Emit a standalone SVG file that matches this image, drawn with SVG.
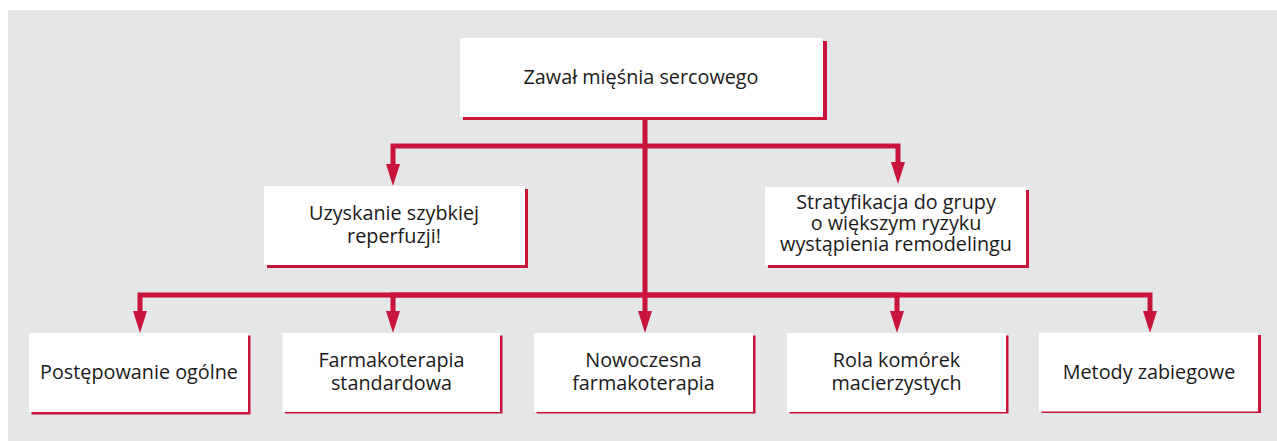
<svg xmlns="http://www.w3.org/2000/svg" width="1277" height="441" viewBox="0 0 1277 441">
  <style>
    .bg { fill: #e5e6e8; }
    .box { fill: #ffffff; }
    .shadow { fill: #c8133a; }
    .conn { fill: none; stroke: #c8133a; stroke-width: 5; stroke-linejoin: miter; }
    .lbl { font-family: "Open Sans", "Noto Sans", "DejaVu Sans", sans-serif; font-size: 19.8px; fill: #1a1a1a; text-anchor: middle; }
  </style>
  <defs>
    <marker id="arrow" viewBox="0 0 22 14" markerWidth="22" markerHeight="14" markerUnits="userSpaceOnUse" refX="2" refY="7" orient="auto">
      <path d="M0,0 L22,7 L0,14 Z" fill="#c8133a"/>
    </marker>
  </defs>
  <rect class="bg" x="8" y="10" width="1269" height="431"/>

  <g id="connectors">
    <path class="conn" d="M645,117 V313" marker-end="url(#arrow)"/>
    <path class="conn" d="M645,146 H393 V166" marker-end="url(#arrow)"/>
    <path class="conn" d="M645,146 H898 V164" marker-end="url(#arrow)"/>
    <path class="conn" d="M645,295 H140 V313" marker-end="url(#arrow)"/>
    <path class="conn" d="M645,295 H393 V313" marker-end="url(#arrow)"/>
    <path class="conn" d="M645,295 H897 V313" marker-end="url(#arrow)"/>
    <path class="conn" d="M645,295 H1150 V313" marker-end="url(#arrow)"/>
  </g>

  <g id="node-zawal">
    <rect class="shadow" x="463" y="41" width="364" height="79"/>
    <rect class="box" x="460" y="38" width="363" height="79"/>
    <text class="lbl" x="641" y="84">Zawał mięśnia sercowego</text>
  </g>

  <g id="node-reperfuzja">
    <rect class="shadow" x="267" y="189" width="261" height="79"/>
    <rect class="box" x="264" y="186" width="261" height="79"/>
    <text class="lbl" x="394" y="220">Uzyskanie szybkiej</text>
    <text class="lbl" x="394" y="243">reperfuzji!</text>
  </g>

  <g id="node-stratyfikacja">
    <rect class="shadow" x="768" y="190" width="261" height="78"/>
    <rect class="box" x="765" y="187" width="261" height="78"/>
    <text class="lbl" x="896" y="209">Stratyfikacja do grupy</text>
    <text class="lbl" x="896" y="230">o większym ryzyku</text>
    <text class="lbl" x="896" y="251">wystąpienia remodelingu</text>
  </g>

  <g id="node-postepowanie">
    <rect class="shadow" x="31.5" y="335.5" width="219" height="79"/>
    <rect class="box" x="29" y="333" width="219" height="79"/>
    <text class="lbl" x="139" y="379">Postępowanie ogólne</text>
  </g>

  <g id="node-farmakoterapia">
    <rect class="shadow" x="285" y="335.5" width="217.5" height="78"/>
    <rect class="box" x="282.5" y="333" width="217.5" height="79"/>
    <text class="lbl" x="391.5" y="367">Farmakoterapia</text>
    <text class="lbl" x="391.5" y="390">standardowa</text>
  </g>

  <g id="node-nowoczesna">
    <rect class="shadow" x="536.5" y="335.5" width="219" height="78"/>
    <rect class="box" x="534" y="333" width="219" height="79"/>
    <text class="lbl" x="643.5" y="367">Nowoczesna</text>
    <text class="lbl" x="643.5" y="390">farmakoterapia</text>
  </g>

  <g id="node-komorki">
    <rect class="shadow" x="789.5" y="335.5" width="219" height="78"/>
    <rect class="box" x="787" y="333" width="219" height="79"/>
    <text class="lbl" x="896.5" y="367">Rola komórek</text>
    <text class="lbl" x="896.5" y="390">macierzystych</text>
  </g>

  <g id="node-zabiegowe">
    <rect class="shadow" x="1041.5" y="335" width="219.5" height="78"/>
    <rect class="box" x="1039" y="332.5" width="219" height="79"/>
    <text class="lbl" x="1149" y="378.5">Metody zabiegowe</text>
  </g>
</svg>
